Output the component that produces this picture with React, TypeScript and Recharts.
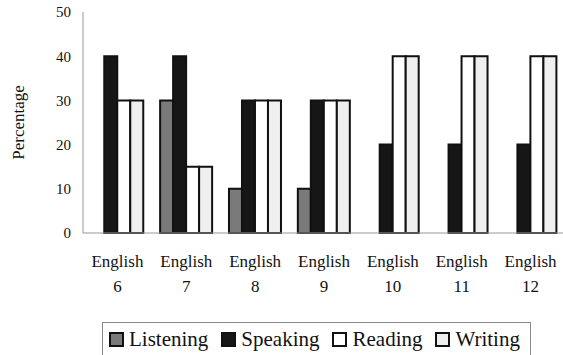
import React from 'react';
import { BarChart, Bar, XAxis, YAxis, Label, Legend } from 'recharts';

// categorias e valores
const grades = ['English 6', 'English 7', 'English 8', 'English 9', 'English 10', 'English 11', 'English 12'];
const listening = [0, 30, 10, 10, 0, 0, 0];
const speaking = [40, 40, 30, 30, 20, 20, 20];
const reading = [30, 15, 30, 30, 40, 40, 40];
const writing = [30, 15, 30, 30, 40, 40, 40];
const yTicks = [0, 10, 20, 30, 40, 50];

const series = [
  { key: 'Listening', fill: '#7a7a7a' },
  { key: 'Speaking', fill: '#161616' },
  { key: 'Reading', fill: '#ffffff' },
  { key: 'Writing', fill: '#efefef' }
];

const data = grades.map((g, i) => ({
  name: g,
  Listening: listening[i],
  Speaking: speaking[i],
  Reading: reading[i],
  Writing: writing[i]
}));

const FONT = 'Liberation Serif';

// rótulo do eixo X em duas linhas
const GradeTick = (props: any) => {
  const { x, y, payload } = props;
  const [word, num] = String(payload.value).split(' ');
  return (
    <text x={x} textAnchor="middle" fontFamily={FONT} fontSize={17} fill="#111">
      <tspan x={x} y={y + 34}>{word}</tspan>
      <tspan x={x} y={y + 59}>{num}</tspan>
    </text>
  );
};

const BoxLegend = () => (
  <div
    style={{
      border: '1px solid #8a8a8a',
      height: 40,
      boxSizing: 'border-box',
      display: 'flex',
      alignItems: 'flex-start',
      paddingLeft: 6,
      paddingTop: 4,
      fontFamily: FONT,
      fontSize: 21,
      color: '#111',
      whiteSpace: 'nowrap'
    }}
  >
    {series.map((s) => (
      <div key={s.key} style={{ display: 'flex', alignItems: 'center', marginRight: 13 }}>
        <span
          style={{
            display: 'inline-block',
            width: 15,
            height: 15,
            boxSizing: 'border-box',
            border: '2px solid #111',
            background: s.fill,
            marginRight: 5
          }}
        />
        <span style={{ lineHeight: '24px' }}>{s.key}</span>
      </div>
    ))}
  </div>
);

export default function App() {
  return (
    <div style={{ position: 'absolute', left: 0, top: 0, width: 563, height: 355, background: '#fff', overflow: 'hidden' }}>
      <BarChart
        width={563}
        height={355}
        data={data}
        margin={{ top: 12, right: -2, left: 0, bottom: 62 }}
        barCategoryGap="12%"
        barGap={0}
      >
        <XAxis
          dataKey="name"
          axisLine={{ stroke: '#999' }}
          tickLine={false}
          tickSize={0}
          tickMargin={0}
          height={60}
          interval={0}
          tick={<GradeTick />}
        />
        <YAxis
          width={83}
          domain={[0, 50]}
          ticks={yTicks}
          axisLine={{ stroke: '#999' }}
          tickLine={false}
          tickSize={0}
          tickMargin={12}
          tick={{ fontFamily: FONT, fontSize: 15, fill: '#111' }}
        >
          <Label
            value="Percentage"
            angle={-90}
            position="insideLeft"
            offset={18}
            style={{ fontFamily: FONT, fontSize: 17, fill: '#111', textAnchor: 'middle' }}
          />
        </YAxis>
        <Legend
          layout="horizontal"
          verticalAlign="middle"
          align="center"
          content={<BoxLegend />}
          wrapperStyle={{ left: 102, top: 322, width: 429, height: 40 }}
        />
        {series.map((s) => (
          <Bar
            key={s.key}
            dataKey={s.key}
            fill={s.fill}
            stroke="#111"
            strokeWidth={2}
            isAnimationActive={false}
          />
        ))}
      </BarChart>
    </div>
  );
}
